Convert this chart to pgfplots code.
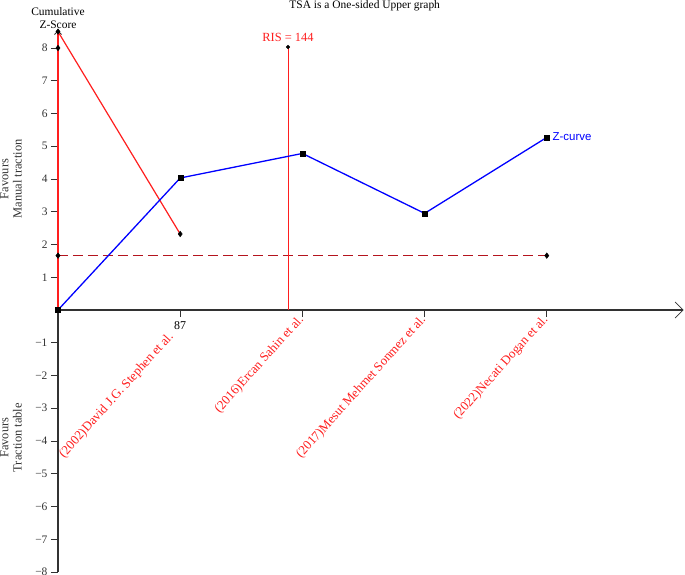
\documentclass[border=0pt]{standalone}
\usepackage{pgfplots}
\pgfplotsset{compat=1.18}
\usetikzlibrary{arrows.meta}
\usepackage{fontspec}
\setmainfont{Liberation Serif}
\newfontfamily\arialfont{Liberation Sans}
\definecolor{risred}{RGB}{255,30,30}
\definecolor{bndred}{RGB}{180,20,30}
\definecolor{axgray}{RGB}{50,50,50}
\begin{document}
\begin{tikzpicture}
\useasboundingbox (-58bp,-3bp) rectangle (627bp,572bp);
\begin{axis}[
  x=122.2bp, y=32.75bp,
  xmin=0, xmax=5.12, ymin=-8, ymax=8.55,
  axis x line=middle, axis y line=left,
  x axis line style={line width=1.2bp, draw=axgray, -{Straight Barb[length=8bp,width=16bp,line width=0.8bp]}},
  y axis line style={line width=1.2bp, draw=axgray, -{Straight Barb[length=4bp,width=7bp,line width=0.8bp]}},
  tick align=outside,
  major tick length=7bp,
  tick style={line width=0.9bp, draw=axgray},
  xtick={1,2,3,4},
  xticklabels={{},(2016)Ercan Sahin et al.,(2017)Mesut Mehmet Sonmez et al.,(2022)Necati Dogan et al.},
  xticklabel style={rotate=48, anchor=east, text=risred, font=\fontsize{13}{15}\selectfont, inner sep=1bp},
  ytick={-8,-7,-6,-5,-4,-3,-2,-1,1,2,3,4,5,6,7,8},
  yticklabels={−8,−7,−6,−5,−4,−3,−2,−1,1,2,3,4,5,6,7,8},
  yticklabel style={font=\fontsize{11.5}{13}\selectfont, text=black!80},
  clip=false,
]
% Conventional boundary
\addplot[color=bndred, line width=1.5bp, dash=on 10bp off 5bp phase 0bp, no marks] coordinates {(0,1.66) (4,1.66)};
\addplot[only marks, mark=diamond*, mark size=2.8bp, black] coordinates {(0,1.66) (4,1.66)};
% RIS vertical line
\addplot[color=risred, line width=0.9bp, no marks] coordinates {(1.882,0) (1.882,8.03)};
\addplot[only marks, mark=*, mark size=1.8bp, black] coordinates {(1.882,8.03)};
% Upper boundary vertical part
\addplot[color=risred, line width=1.2bp, no marks] coordinates {(0,0) (0,8.5)};
% Upper monitoring boundary
\addplot[color=risred, line width=1.2bp, no marks] coordinates {(0,8.5) (1,2.32)};
\addplot[only marks, mark=diamond*, mark size=2.8bp, black] coordinates {(0,8.5) (1,2.32) (0,8)};
% Z-curve
\addplot[color=blue, line width=1.3bp, no marks] coordinates {(0,0) (1,4.03) (2,4.78) (3,2.95) (4,5.27)};
\addplot[only marks, mark=square*, mark size=2.5bp, black] coordinates {(0,0) (1,4.03) (2,4.78) (3,2.95) (4,5.27)};
\node[anchor=west, text=blue, font=\arialfont\fontsize{11.5}{13}\selectfont, inner sep=2bp] at (axis cs:4.03,5.3) {Z-curve};
\node[text=risred, font=\fontsize{12.5}{14}\selectfont] at (axis cs:1.882,8.32) {RIS = 144};
\node[font=\fontsize{12}{13}\selectfont] at (axis cs:1,0) [anchor=north, yshift=-8bp] {87};
\node[rotate=48, anchor=east, text=risred, font=\fontsize{13}{15}\selectfont, inner sep=1bp] at ([xshift=-8bp,yshift=-24bp]axis cs:1,0) {(2002)David J.G. Stephen et al.};
\node[align=center, font=\fontsize{11.5}{13}\selectfont] at (axis cs:0,8.9) {Cumulative\\Z-Score};
\node[font=\fontsize{11.5}{13}\selectfont] at (axis cs:2.51,9.28) {TSA is a One-sided Upper graph};
\node[rotate=90, align=center, font=\fontsize{12.5}{13.5}\selectfont, text=black!80] at ([xshift=-47bp]axis cs:0,4.0) {Favours\\Manual traction};
\node[rotate=90, align=center, font=\fontsize{12.5}{13.5}\selectfont, text=black!80] at ([xshift=-47bp]axis cs:0,-3.9) {Favours\\Traction table};
\end{axis}
\end{tikzpicture}
\end{document}
